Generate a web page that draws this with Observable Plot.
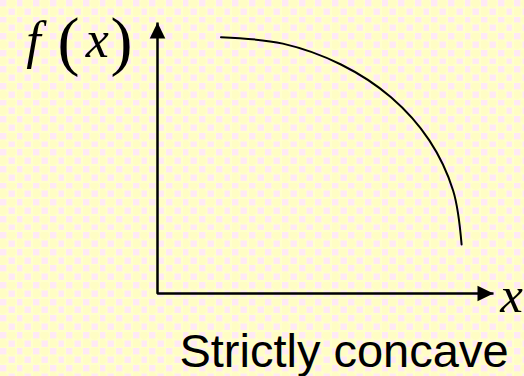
<!DOCTYPE html>
<html>
<head>
<meta charset="utf-8">
<script src="https://cdn.jsdelivr.net/npm/d3@7"></script>
<script src="https://cdn.jsdelivr.net/npm/@observablehq/plot@0.6"></script>
<style>
  html, body { margin: 0; padding: 0; }
  body {
    width: 524px; height: 376px; overflow: hidden;
    background-color: #FFFFCC;
    background-image: url("data:image/svg+xml;utf8,<svg xmlns='http://www.w3.org/2000/svg' width='16' height='16'><rect width='16' height='16' fill='%23FFFFCC'/><rect x='0' y='0' width='6' height='6' fill='%23FFE9F6'/><rect x='8' y='8' width='6' height='6' fill='%23FFE9F6'/><circle cx='11' cy='3' r='4.2' fill='%23FFFDC4'/><circle cx='3' cy='11' r='4.2' fill='%23FFFDC4'/></svg>");
    background-size: 16.6px 16.6px;
  }
  #chart svg { display: block; }
</style>
</head>
<body>
<div id="chart"></div>
<script>
// Axis extents (data units)
const xMax = 10;
const yMax = 10;

// Strictly concave curve
const curveX = [1.89, 3.73, 5.46, 6.95, 8.09, 8.80, 9.05];
const curveY = [9.46, 9.22, 8.45, 7.24, 5.65, 3.79, 1.81];

// Labels
const yLabelParts = ["f", "(", "x", ")"];
const xLabel = "x";
const caption = "Strictly concave";

const curve = curveX.map((x, i) => ({x, y: curveY[i]}));
const axisPath = [{x: 0, y: yMax}, {x: 0, y: 0}, {x: xMax, y: 0}];
const heads = [{x: xMax, y: 0, rotate: 90}, {x: 0, y: yMax, rotate: 0}];

const triangleHead = {
  draw(context, l, r) {
    context.moveTo(0, -l);
    context.lineTo(r, 0);
    context.lineTo(-r, 0);
    context.closePath();
  }
};

const serif = "'Liberation Serif', 'Times New Roman', serif";

const plot = Plot.plot({
  width: 524,
  height: 376,
  marginLeft: 157,
  marginRight: 31,
  marginTop: 22,
  marginBottom: 83,
  x: {domain: [0, xMax], axis: null},
  y: {domain: [0, yMax], axis: null},
  style: {background: "transparent", overflow: "visible"},
  marks: [
    Plot.line(axisPath, {x: "x", y: "y", stroke: "black", strokeWidth: 2.5, strokeLinejoin: "miter", strokeLinecap: "butt"}),
    Plot.vector(heads, {x: "x", y: "y", rotate: "rotate", length: 16, r: 7.8, anchor: "end", shape: triangleHead, fill: "black", stroke: "none"}),
    Plot.line(curve, {x: "x", y: "y", curve: "catmull-rom", stroke: "black", strokeWidth: 2}),
    // f(x) label
    Plot.text([yLabelParts[0]], {x: () => -3.69, y: () => 8.69, text: d => d, fontFamily: serif, fontStyle: "italic", fontSize: 52, lineAnchor: "bottom", textAnchor: "middle", fill: "black"}),
    Plot.text([yLabelParts[1]], {x: () => -2.65, y: () => 8.52, text: d => d, fontFamily: serif, fontSize: 66, lineAnchor: "bottom", textAnchor: "middle", fill: "black"}),
    Plot.text([yLabelParts[2]], {x: () => -1.79, y: () => 8.71, text: d => d, fontFamily: serif, fontStyle: "italic", fontSize: 52, lineAnchor: "bottom", textAnchor: "middle", fill: "black"}),
    Plot.text([yLabelParts[3]], {x: () => -1.07, y: () => 8.52, text: d => d, fontFamily: serif, fontSize: 66, lineAnchor: "bottom", textAnchor: "middle", fill: "black"}),
    // x label
    Plot.text([xLabel], {x: () => 10.54, y: () => -0.70, text: d => d, fontFamily: serif, fontStyle: "italic", fontSize: 51, lineAnchor: "bottom", textAnchor: "middle", fill: "black"}),
    // caption
    Plot.text([caption], {x: () => 5.55, y: () => -2.72, text: d => d, fontFamily: "'Liberation Sans', Arial, sans-serif", fontSize: 47, lineAnchor: "bottom", textAnchor: "middle", fill: "black"})
  ]
});
document.getElementById("chart").append(plot);
</script>
</body>
</html>
